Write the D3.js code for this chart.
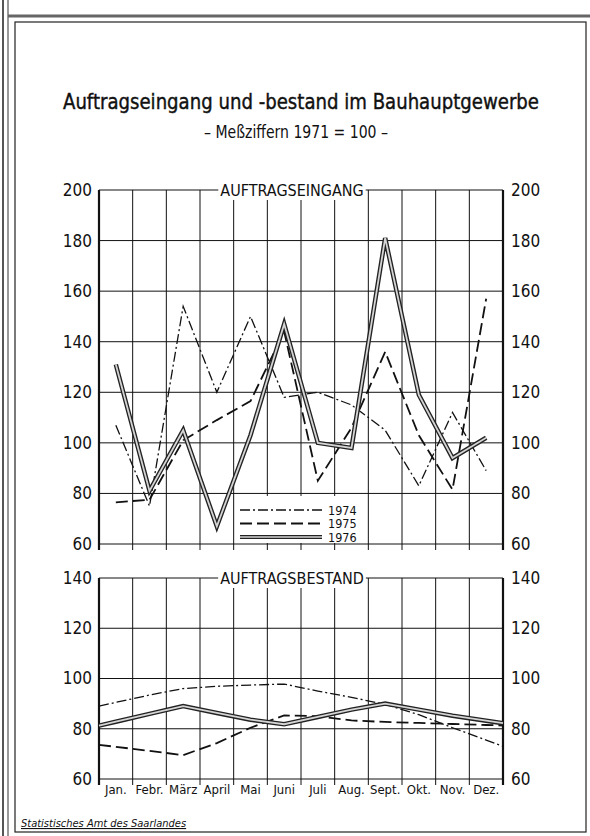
<!DOCTYPE html>
<html>
<head>
<meta charset="utf-8">
<script src="https://cdn.jsdelivr.net/npm/d3@7"></script>
<style>
  body { margin: 0; background: #fff; }
  text { font-family: "DejaVu Sans Condensed", "Liberation Sans Narrow", "DejaVu Sans", sans-serif; fill: #111; }
</style>
</head>
<body>
<div id="chart"></div>
<script>
// Monatsnamen und Jahre
const months = ["Jan.", "Febr.", "März", "April", "Mai", "Juni", "Juli", "Aug.", "Sept.", "Okt.", "Nov.", "Dez."];
const years = ["1974", "1975", "1976"];

// Auftragseingang, Meßziffern 1971 = 100
const eingang1974 = [107, 75, 154, 120, 150, 118, 120, 115, 105, 83, 112, 89];
const eingang1975 = [76.5, 77.5, 101, 109, 116.5, 144, 85, 106, 136, 103, 81.5, 157];
const eingang1976 = [131, 81, 105, 67, 103, 147, 100, 98, 181, 119, 94, 102];

// Auftragsbestand
const bestand1974 = [90.5, 93.4, 96, 96.9, 97.4, 97.8, 95, 92.5, 89.7, 85.6, 80.4, 75.5];
const bestand1975 = [72.8, 71.2, 69.5, 74.3, 80.4, 85.3, 85, 83.3, 82.7, 82.3, 81.9, 81.5];
const bestand1976 = [82.8, 85.9, 89, 86.3, 83.6, 81.8, 84.7, 87.6, 90, 87.6, 85.2, 83.2];

const eingangTicks = [60, 80, 100, 120, 140, 160, 180, 200];
const bestandTicks = [60, 80, 100, 120, 140];

const width = 590, height = 836;
const left = 99, right = 503;

const svg = d3.select("#chart").append("svg")
  .attr("width", width)
  .attr("height", height);

// Rahmen
svg.append("line").attr("x1", 3).attr("x2", 3).attr("y1", 0).attr("y2", height)
  .attr("stroke", "#555").attr("stroke-width", 2);
svg.append("line").attr("x1", 8).attr("x2", 8).attr("y1", 0).attr("y2", height)
  .attr("stroke", "#777").attr("stroke-width", 1.5);
svg.append("line").attr("x1", 8).attr("x2", width).attr("y1", 16).attr("y2", 16)
  .attr("stroke", "#666").attr("stroke-width", 3);
svg.append("rect").attr("x", 15).attr("y", 22).attr("width", 571).attr("height", 810)
  .attr("fill", "none").attr("stroke", "#222").attr("stroke-width", 1.2);

// Titel
svg.append("text")
  .attr("x", 301).attr("y", 109)
  .attr("text-anchor", "middle")
  .attr("font-size", 22)
  .attr("stroke", "#111").attr("stroke-width", 0.4)
  .attr("textLength", 476).attr("lengthAdjust", "spacingAndGlyphs")
  .text("Auftragseingang und -bestand im Bauhauptgewerbe");

svg.append("text")
  .attr("x", 296).attr("y", 138)
  .attr("text-anchor", "middle")
  .attr("font-size", 17)
  .attr("textLength", 184).attr("lengthAdjust", "spacingAndGlyphs")
  .text("– Meßziffern 1971 = 100 –");

const x = d3.scaleBand().domain(months).range([left, right]);
const xEdge = d3.scaleLinear().domain([0, 12]).range([left, right]);
const cx = i => x(months[i]) + x.bandwidth() / 2;

const styles = {
  "1974": { dash: "10,3,2,3", w: 1.3 },
  "1975": { dash: "12,5", w: 1.8 }
};

function panel(yScale, ticks, series, label, extend) {
  const [bottom, top] = yScale.range();
  const g = svg.append("g");

  // horizontale Gitterlinien
  g.selectAll(".hgrid").data(ticks).join("line")
    .attr("x1", left).attr("x2", right)
    .attr("y1", d => yScale(d)).attr("y2", d => yScale(d))
    .attr("stroke", "#111").attr("stroke-width", 1);

  // senkrechte Linien zwischen den Monaten
  g.selectAll(".vgrid").data(d3.range(1, 12)).join("line")
    .attr("x1", d => xEdge(d)).attr("x2", d => xEdge(d))
    .attr("y1", top).attr("y2", bottom + 6)
    .attr("stroke", "#111").attr("stroke-width", 1);

  g.append("line").attr("x1", left).attr("x2", left).attr("y1", top).attr("y2", bottom + 6)
    .attr("stroke", "#111").attr("stroke-width", 2.2);
  g.append("line").attr("x1", right).attr("x2", right).attr("y1", top).attr("y2", bottom + 6)
    .attr("stroke", "#111").attr("stroke-width", 2.2);

  // Achsenbeschriftung links und rechts
  const axL = d3.axisLeft(yScale).tickValues(ticks).tickSize(0).tickPadding(7);
  const axR = d3.axisRight(yScale).tickValues(ticks).tickSize(0).tickPadding(8);
  [svg.append("g").attr("transform", `translate(${left},0)`).call(axL),
   svg.append("g").attr("transform", `translate(${right},0)`).call(axR)].forEach(a => {
    a.select(".domain").remove();
    a.selectAll("text").attr("font-size", 17).style("font-family", null);
  });

  // Linien
  const line = d3.line().x(d => d[0]).y(d => yScale(d[1]));
  series.forEach(s => {
    let pts = s.values.map((v, i) => [cx(i), v]);
    if (extend) {
      const [a, b] = [pts[0], pts[1]];
      const [c, d] = [pts[pts.length - 2], pts[pts.length - 1]];
      const v0 = a[1] - (b[1] - a[1]) * (a[0] - left) / (b[0] - a[0]);
      const v1 = d[1] + (d[1] - c[1]) * (right - d[0]) / (d[0] - c[0]);
      pts = [[left, v0], ...pts, [right, v1]];
    }
    if (s.year === "1976") {
      g.append("path").datum(pts).attr("d", line).attr("fill", "none")
        .attr("stroke", "#222").attr("stroke-width", 4.5).attr("stroke-linejoin", "miter");
      g.append("path").datum(pts).attr("d", line).attr("fill", "none")
        .attr("stroke", "#d4d4d4").attr("stroke-width", 1.8).attr("stroke-linejoin", "miter");
    } else {
      g.append("path").datum(pts).attr("d", line).attr("fill", "none")
        .attr("stroke", "#111").attr("stroke-width", styles[s.year].w)
        .attr("stroke-dasharray", styles[s.year].dash);
    }
  });

  // Panel-Titel auf dem oberen Rahmen
  const t = g.append("text").attr("x", 292).attr("y", top + 6)
    .attr("text-anchor", "middle").attr("font-size", 16).text(label);
  const bb = t.node().getBBox();
  g.insert("rect", "text").attr("x", bb.x - 2).attr("y", bb.y)
    .attr("width", bb.width + 4).attr("height", bb.height).attr("fill", "#fff");

  return g;
}

const yTop = d3.scaleLinear().domain([60, 200]).range([544, 190]);
const yBot = d3.scaleLinear().domain([60, 140]).range([779, 578]);

const gTop = panel(yTop, eingangTicks, [
  { year: "1974", values: eingang1974 },
  { year: "1975", values: eingang1975 },
  { year: "1976", values: eingang1976 }
], "AUFTRAGSEINGANG", false);

panel(yBot, bestandTicks, [
  { year: "1974", values: bestand1974 },
  { year: "1975", values: bestand1975 },
  { year: "1976", values: bestand1976 }
], "AUFTRAGSBESTAND", true);

// Legende
gTop.append("rect").attr("x", 236).attr("y", yTop(79)).attr("width", 128)
  .attr("height", yTop(60) - yTop(79) - 1).attr("fill", "#fff");
years.forEach((yr, i) => {
  const ly = 510 + i * 13.5;
  if (yr === "1976") {
    gTop.append("line").attr("x1", 240).attr("x2", 322).attr("y1", ly).attr("y2", ly)
      .attr("stroke", "#222").attr("stroke-width", 4);
    gTop.append("line").attr("x1", 240).attr("x2", 322).attr("y1", ly).attr("y2", ly)
      .attr("stroke", "#d4d4d4").attr("stroke-width", 1.5);
  } else {
    gTop.append("line").attr("x1", 240).attr("x2", 322).attr("y1", ly).attr("y2", ly)
      .attr("stroke", "#111").attr("stroke-width", styles[yr].w)
      .attr("stroke-dasharray", styles[yr].dash);
  }
  gTop.append("text").attr("x", 328).attr("y", ly + 4.5).attr("font-size", 12.5).text(yr);
});

// Monatsnamen
const axM = d3.axisBottom(x).tickSize(0).tickPadding(6);
const gm = svg.append("g").attr("transform", `translate(0,779)`).call(axM);
gm.select(".domain").remove();
gm.selectAll("text").attr("font-size", 13).style("font-family", null);

// Quelle
svg.append("text").attr("x", 21).attr("y", 827)
  .attr("font-size", 11).attr("font-style", "italic")
  .attr("text-decoration", "underline")
  .text("Statistisches Amt des Saarlandes");
</script>
</body>
</html>
